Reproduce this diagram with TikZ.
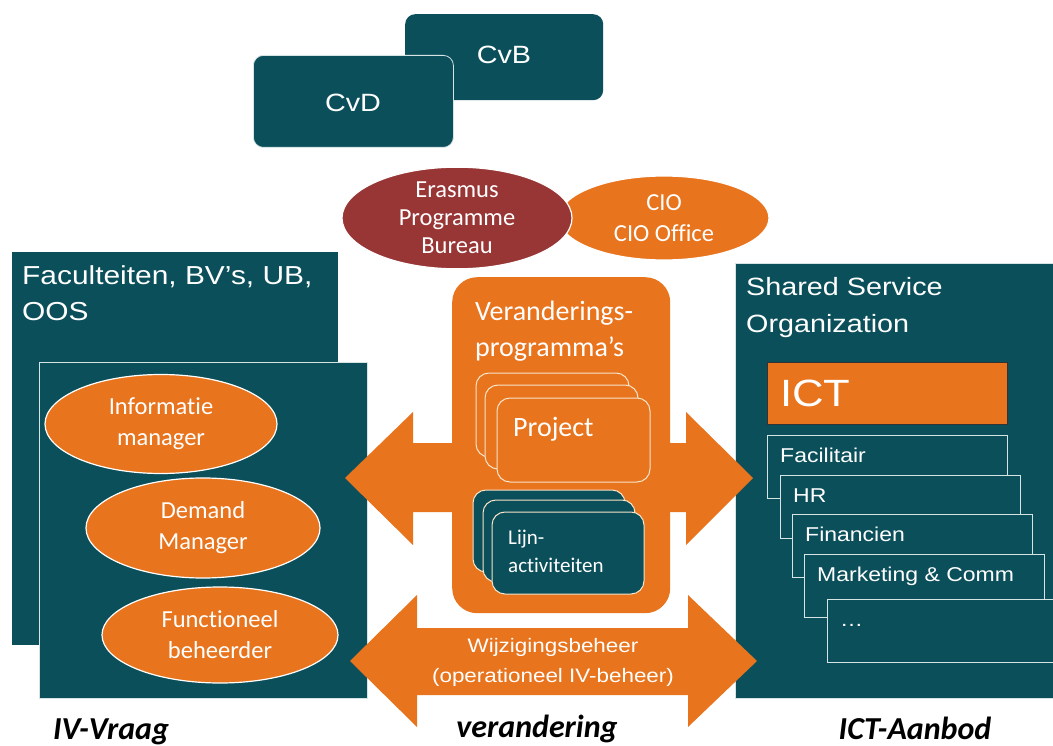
\documentclass[tikz,border=0pt]{standalone}
\usepackage{fontspec}
\setmainfont{Carlito}[Ligatures=NoCommon]
\newfontfamily\arialfont{Liberation Sans}[FakeStretch=1.15]
\usepackage{xcolor}
\usetikzlibrary{shapes.geometric}
\usetikzlibrary{positioning}

\definecolor{eurTeal}{HTML}{0B4F5B}
\definecolor{eurOrange}{HTML}{E8741E}
\definecolor{eurRed}{HTML}{983535}
\definecolor{eurLine}{HTML}{D6E4E4}
\definecolor{eurCream}{HTML}{F8E4C8}

\begin{document}
\begin{tikzpicture}[x=1pt,y=-1pt,
	blok/.style={fill=eurTeal,anchor=north west,inner sep=0pt},
	rol/.style={ellipse,fill=eurOrange,draw=white,line width=1.2pt,text=white,align=center,inner sep=0pt,font=\fontsize{24.5}{31}\selectfont},
	kop/.style={text=white,anchor=north west,align=left,inner sep=0pt,font=\arialfont\fontsize{26}{36}\selectfont},
	dienst/.style={fill=eurTeal,draw=eurLine,line width=0.9pt},
	dienstnaam/.style={text=white,anchor=base west,inner sep=0pt,font=\arialfont\fontsize{20}{24}\selectfont},
	kaart/.style={rounded corners=13pt,line width=1pt,draw=eurCream},
	pijl/.style={fill=eurOrange,draw=none},
	ondertitel/.style={anchor=base,inner sep=0pt,font=\bfseries\itshape\fontsize{32}{34}\selectfont}
]
	\useasboundingbox (0,0) rectangle (1053,746);

	% bestuur
	\node[blok,rounded corners=10pt,minimum width=198,minimum height=86] (cvbblok) at (405,14) {};
	\node[text=white,font=\arialfont\fontsize{25}{30}\selectfont] (cvb) at (504,55) {CvB};
	\node[blok,rounded corners=10pt,draw=eurLine,line width=0.8pt,minimum width=200,minimum height=92] (cvdblok) at (253,55) {};
	\node[text=white,font=\arialfont\fontsize{25}{30}\selectfont] (cvd) at (353,103) {CvD};

	\node[rol,minimum width=210,minimum height=84] (cio) at (664,218) {CIO\\CIO Office};
	\node[rol,fill=eurRed,minimum width=230,minimum height=90,font=\fontsize{24.5}{28}\selectfont] (epb) at (457,218) {Erasmus\\Programme\\Bureau};

	% IV-vraag
	\node[blok,minimum width=326,minimum height=393] (facblok) at (12,252) {};
	\node[kop] (fac) at (22,265) {Faculteiten, BV’s, UB,\\OOS};
	\node[blok,draw=eurLine,line width=0.8pt,minimum width=328,minimum height=336] (rollen) at (39,362) {};
	\node[rol,minimum width=232,minimum height=99] (infoman) at (161,424) {Informatie\\manager};
	\node[rol,minimum width=234,minimum height=100] (demandman) at (203,528) {Demand\\Manager};
	\node[rol,minimum width=236,minimum height=96] (fb) at (220,635) {Functioneel\\beheerder};

	% ICT-aanbod
	\node[blok,draw=eurLine,line width=0.8pt,minimum width=330,minimum height=435] (ssoblok) at (735,263) {};
	\node[kop,font=\arialfont\fontsize{25}{37}\selectfont] (sso) at (746,277) {Shared Service\\Organization};
	\node[blok,fill=eurOrange,draw=black!80,line width=1pt,minimum width=240,minimum height=62] (ictblok) at (767,362) {};
	\node[dienstnaam,font=\arialfont\fontsize{38}{40}\selectfont] (ict) at (780,406) {ICT};
	\foreach \x/\y/\naam [count=\n] in {767/435/Facilitair,780/475/HR,792/514/Financien,804/554/Marketing \& Comm,827/599/{…}}
	{
		\draw[dienst] (\x,\y) rectangle ++(240,63);
		\node[dienstnaam] (dienst\n) at (\x+13,\y+27) {\naam};
	}

	% pijlen
	\draw[pijl] (455,443) -- (413,443) -- (413,412) -- (345,478) -- (413,545) -- (413,512) -- (455,512) -- cycle;
	\draw[pijl] (665,443) -- (686,443) -- (686,412) -- (753,478) -- (686,545) -- (686,512) -- (665,512) -- cycle;
	\draw[pijl] (350,661) -- (417,595) -- (417,628) -- (688,628) -- (688,595) -- (757,661)
		-- (688,727) -- (688,695) -- (417,695) -- (417,727) -- cycle;
	\node[text=white,align=center,font=\arialfont\fontsize{19.5}{30}\selectfont] (wijz) at (553,662) {Wijzigingsbeheer\\(operationeel IV-beheer)};

	% verandering
	\node[blok,fill=eurOrange,rounded corners=25pt,minimum width=218,minimum height=336] (progblok) at (452,277) {};
	\node[text=white,anchor=north west,align=left,inner sep=0pt,font=\fontsize{28}{36}\selectfont] (prog) at (475,301) {Veranderings-\\programma’s};
	\foreach \dx/\dy in {0/0,9/12,21/25}
		\draw[kaart,fill=eurOrange] (476+\dx,373+\dy) rectangle ++(153,84);
	\node[text=white,anchor=base west,inner sep=0pt,font=\fontsize{28}{30}\selectfont] (project) at (513,436) {Project};
	\foreach \dx/\dy in {0/0,10/10,19/22}
		\draw[kaart,fill=eurTeal] (473+\dx,490+\dy) rectangle ++(152,82);
	\node[text=white,anchor=north west,align=left,inner sep=0pt,font=\fontsize{21}{28}\selectfont] (lijn) at (508,530) {Lijn-\\activiteiten};

	% onderschriften
	\node[ondertitel] (vraag) at (111,739) {IV-Vraag};
	\node[ondertitel] (verandering) at (537,737) {verandering};
	\node[ondertitel] (aanbod) at (915,739) {ICT-Aanbod};
\end{tikzpicture}
\end{document}
